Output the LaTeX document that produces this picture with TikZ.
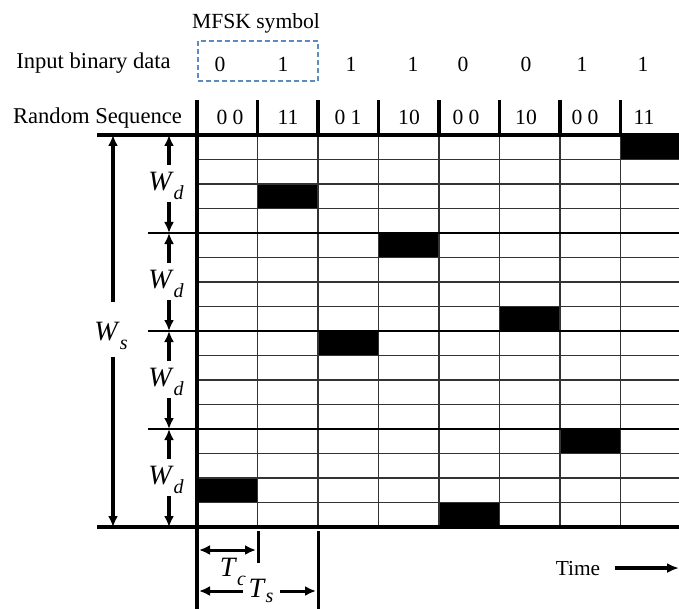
\documentclass[tikz,border=0pt]{standalone}
\usepackage{fontspec}
\setmainfont{Liberation Serif}
\usepackage{tikz}
\usetikzlibrary{arrows.meta, positioning}
\definecolor{boxblue}{HTML}{5B8BC0}
\newcommand{\dimlab}[2]{\textit{#1}\raisebox{-0.35em}{\fontsize{10}{12}\selectfont\textit{#2}}}

\begin{document}
\begin{tikzpicture}[
  x=0.5pt, y=-0.5pt,
  every node/.style={font=\fontsize{11.3}{13}\selectfont, inner sep=0pt},
  textlabel/.style={anchor=base},
  bitlabel/.style={anchor=base, font=\fontsize{10.8}{12}\selectfont},
  dimlabel/.style={font=\fontsize{14}{16}\selectfont},
  gridline/.style={line width=0.8pt, draw=black!80},
  groupline/.style={line width=1.4pt},
  edgeline/.style={line width=1.8pt},
  tickline/.style={line width=1.8pt},
  dimarrow/.style={-{Latex[length=5.5pt, width=5pt]}, line width=1.6pt},
  dimboth/.style={{Latex[length=5.5pt, width=5pt]}-{Latex[length=5.5pt, width=5pt]}, line width=1.5pt},
  timearrow/.style={-{Latex[length=6pt, width=5pt]}, line width=1.8pt}
]
\useasboundingbox (0,0) rectangle (679,609);

%% ─── Hopping cells ───────────────────────────────────────────────────────────
\foreach \c/\r in {0/14, 1/2, 2/8, 3/4, 4/15, 5/7, 6/12, 7/0}
  \fill ({197+\c*60.5},{135+\r*24.5}) rectangle ({min(197+(\c+1)*60.5,679)},{135+(\r+1)*24.5});

%% ─── Time-frequency grid ─────────────────────────────────────────────────────
\foreach \r in {1,2,3,5,6,7,9,10,11,13,14,15}
  \draw[gridline] (197,{135+\r*24.5}) -- (679,{135+\r*24.5});
\foreach \c in {1,...,7}
  \draw[gridline] ({197+\c*60.5},135) -- ({197+\c*60.5},527);

\draw[edgeline] (97,135) -- (679,135);
\foreach \g in {1,2,3}
  \draw[groupline] (148,{135+\g*98}) -- (679,{135+\g*98});
\draw[edgeline] (97,527) -- (679,527);
\draw[edgeline] (197,100) -- (197,609);

%% ─── Header rows ─────────────────────────────────────────────────────────────
\node[textlabel, font=\fontsize{10.8}{13}\selectfont] (mfsk) at (256,28.5) {MFSK symbol};
\node[textlabel] (inlab) at (93.5,68.5) {Input binary data};
\node[textlabel] (rslab) at (97.5,123.5) {Random Sequence};

\draw[boxblue, line width=0.6pt, dash pattern=on 2.5pt off 1.5pt] (198,41) rectangle (318,81);

\foreach \x/\b [count=\i] in {220/0, 283/1, 351/1, 413/1, 463/0, 526/0, 582/1, 643/1}
  \node[bitlabel] (bit\i) at (\x,71.5) {\b};

\foreach \c in {1,...,7}
  \draw[tickline] ({197+\c*60.5},100) -- ({197+\c*60.5},133);
\foreach \x/\s [count=\i] in {230/{0 0}, 288/11, 348/{0 1}, 409/10, 466/{0 0}, 526/10, 585/{0 0}, 644/11}
  \node[bitlabel] (seq\i) at (\x,125) {\s};

%% ─── Bandwidth arrows ────────────────────────────────────────────────────────
\node[dimlabel] (ws) at (111,336) {\dimlab{W}{s}};
\coordinate (wsup)  at (113,302);
\coordinate (wsdn)  at (113,357);
\coordinate (wstop) at (113,135);
\coordinate (wsbot) at (113,527);
\draw[dimarrow] (wsup) -- (wstop);
\draw[dimarrow] (wsdn) -- (wsbot);

\foreach \g in {0,1,2,3} {
  \node[dimlabel] (wd\g) at (166,{186+\g*98}) {\dimlab{W}{d}};
  \coordinate (wdup\g)  at (169,{165+\g*98});
  \coordinate (wddn\g)  at (169,{202+\g*98});
  \coordinate (wdtop\g) at (169,{135+\g*98});
  \coordinate (wdbot\g) at (169,{233+\g*98});
  \draw[dimarrow] (wdup\g) -- (wdtop\g);
  \draw[dimarrow] (wddn\g) -- (wdbot\g);
}

%% ─── Chip and symbol durations ──────────────────────────────────────────────
\draw[tickline, line width=1.5pt] (258,531) -- (258,563);
\draw[tickline, line width=1.5pt] (318,531) -- (318,609);

\coordinate (tcl) at (199,550);
\coordinate (tcr) at (256,550);
\draw[dimboth] (tcl) -- (tcr);
\node[dimlabel] (tc) at (233,572) {\dimlab{T}{c}};

\coordinate (tsl) at (199,591);
\coordinate (tsr) at (316,591);
\draw[dimboth] (tsl) -- (tsr)
  node[dimlabel, fill=white, inner xsep=3pt, inner ysep=1pt, pos=0.53] (ts)
  {\textit{T}\raisebox{-0.2em}{\fontsize{10}{12}\selectfont\textit{s}}};

%% ─── Time axis ───────────────────────────────────────────────────────────────
\node[textlabel, font=\fontsize{10.7}{13}\selectfont] (time) at (578,575) {Time};
\coordinate (timeend) at (679,568);
\draw[timearrow] ([xshift=7pt]time.east) -- (time.east -| timeend);

\end{tikzpicture}
\end{document}
